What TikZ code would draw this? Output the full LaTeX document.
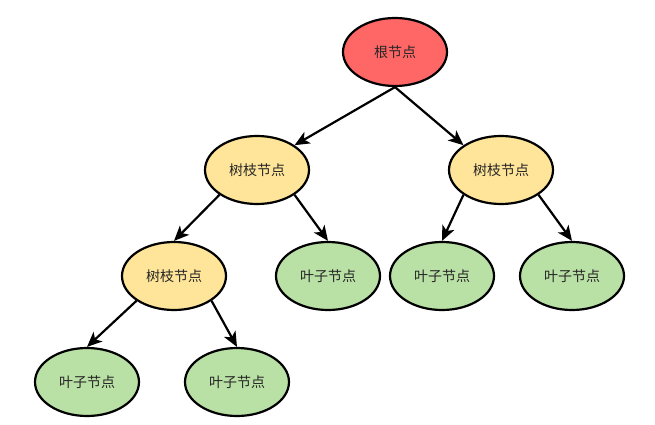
\documentclass[tikz,border=0pt]{standalone}
\usepackage{fontspec}
\newfontfamily\cjk{Noto Sans CJK SC}
\usetikzlibrary{arrows.meta,shapes.geometric}
\definecolor{rootc}{HTML}{FF6666}
\definecolor{branchc}{HTML}{FFE599}
\definecolor{leafc}{HTML}{B9E0A5}
\begin{document}
\begin{tikzpicture}[x=1pt,y=-1pt,
  tnode/.style={ellipse,draw=black,line width=2.2pt,minimum width=104pt,minimum height=68pt,inner sep=0pt,font=\cjk\fontsize{14}{16}\selectfont,text=black!85},
  rootnode/.style={tnode,fill=rootc},
  branchnode/.style={tnode,fill=branchc},
  leafnode/.style={tnode,fill=leafc},
  arr/.style={line width=2.2pt,-{Stealth[length=15pt,width=13pt,inset=4pt]}}]
\useasboundingbox (0,0) rectangle (655,425);
\node[rootnode] (r) at (395,52) {根节点};
\node[branchnode] (b1) at (257,170) {树枝节点};
\node[branchnode] (b2) at (501,170) {树枝节点};
\node[branchnode] (b3) at (174,276) {树枝节点};
\node[leafnode] (l1) at (328,276) {叶子节点};
\node[leafnode] (l2) at (442,276) {叶子节点};
\node[leafnode] (l3) at (572,276) {叶子节点};
\node[leafnode] (l4) at (87,382) {叶子节点};
\node[leafnode] (l5) at (237,382) {叶子节点};
\draw[arr] (r.south) -- (b1.north east);
\draw[arr] (r.south) -- (b2.north west);
\draw[arr] (b1.south west) -- (b3.north);
\draw[arr] (b1.south east) -- (l1.north);
\draw[arr] (b2.south west) -- (l2.north);
\draw[arr] (b2.south east) -- (l3.north);
\draw[arr] (b3.south west) -- (l4.north);
\draw[arr] (b3.south east) -- (l5.north);
\end{tikzpicture}
\end{document}
